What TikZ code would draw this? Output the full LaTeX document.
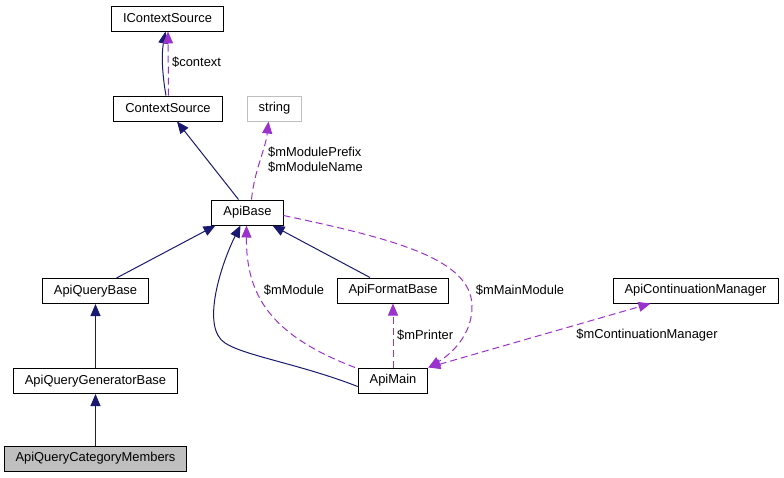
\documentclass[tikz,border=0pt]{standalone}
\usepackage{fontspec}
\setmainfont{Liberation Sans}
\usetikzlibrary{positioning,arrows.meta,calc}
\definecolor{inhcol}{HTML}{191970}
\definecolor{usecol}{HTML}{9A32CD}
\definecolor{greyline}{HTML}{BFBFBF}

\begin{document}
\begin{tikzpicture}[
    x=1pt, y=-1pt,
    classbox/.style={rectangle, draw, line width=1pt, minimum height=25pt, inner xsep=11.5pt, inner ysep=0pt, font=\fontsize{12.9}{14}\selectfont, fill=white},
    curbox/.style={classbox, fill=greyline},
    extbox/.style={classbox, draw=greyline},
    inherit/.style={-{Triangle[length=12pt,width=10pt]}, line width=1pt, inhcol},
    uses/.style={-{Triangle[length=12pt,width=10pt]}, line width=1pt, usecol, dash pattern=on 7pt off 4pt},
    usesboth/.style={{Triangle[length=12pt,width=10pt]}-{Triangle[length=12pt,width=10pt]}, line width=1pt, usecol, dash pattern=on 7pt off 4pt},
    edgelabel/.style={font=\fontsize{12.9}{15}\selectfont, align=left, inner sep=0pt}
]
\useasboundingbox (0,0) rectangle (784,477);

% Classes
\node[classbox] (ics) at (167.5,18.5) {IContextSource};
\node[classbox] (cs) at (168,108.5) {ContextSource};
\node[extbox] (str) at (274.5,108.5) {string};
\node[classbox] (ab) at (247.5,212.5) {ApiBase};
\node[classbox] (aqb) at (95.5,291) {ApiQueryBase};
\node[classbox] (afb) at (393,290.5) {ApiFormatBase};
\node[classbox] (acm) at (695.5,290.5) {ApiContinuationManager};
\node[classbox] (aqgb) at (95.5,381) {ApiQueryGeneratorBase};
\node[curbox] (aqcm) at (95.5,458.5) {ApiQueryCategoryMembers};
\node[classbox] (am) at (393,380.5) {ApiMain};

% Inheritance
\draw[inherit] ([xshift=-2pt]cs.north) .. controls +(-4,-22) and +(-4,22) .. ([xshift=-2pt]ics.south);
\draw[inherit] ([xshift=-9pt]ab.north) -- ([xshift=9pt]cs.south);
\draw[inherit] ([xshift=21pt]aqb.north) -- ([xshift=-32pt]ab.south);
\draw[inherit] ([xshift=-23pt]afb.north) -- ([xshift=25pt]ab.south);
\draw[inherit] ([yshift=-6pt]am.west) .. controls (300,364) and (245,356) .. (225,343)
    .. controls (200,327) and (222,262) .. ([xshift=-7pt]ab.south);
\draw[inherit] (aqgb) -- (aqb);
\draw[inherit] (aqcm) -- (aqgb);

% Members
\draw[uses] ([xshift=0.5pt]cs.north) -- ([xshift=0.5pt]ics.south);
\node[edgelabel, anchor=west] (lctx) at (172,62) {\$context};

\draw[uses] ([xshift=4pt]ab.north) .. controls +(3,-30) and +(-3,28) .. ([xshift=-6pt]str.south);
\node[edgelabel, anchor=west] (lmod) at (268,160) {\$mModulePrefix\\\$mModuleName};

\draw[uses] ([xshift=-38pt]am.north) .. controls (270,335) and (246,295) .. ([xshift=-1pt]ab.south);
\node[edgelabel] (lmodule) at (294,290) {\$mModule};

\draw[uses] ([yshift=-3pt]ab.east) .. controls (400,240) and (470,260) .. (472,305)
    .. controls (473,335) and (450,355) .. (am.north east);
\node[edgelabel] (lmain) at (520,290) {\$mMainModule};

\draw[uses] (am.north) -- (afb.south);
\node[edgelabel, anchor=west] (lprint) at (397,335) {\$mPrinter};

\draw[usesboth] (am.north east) -- ([xshift=-45pt]acm.south);
\node[edgelabel] (lcont) at (647,335) {\$mContinuationManager};

\end{tikzpicture}
\end{document}
